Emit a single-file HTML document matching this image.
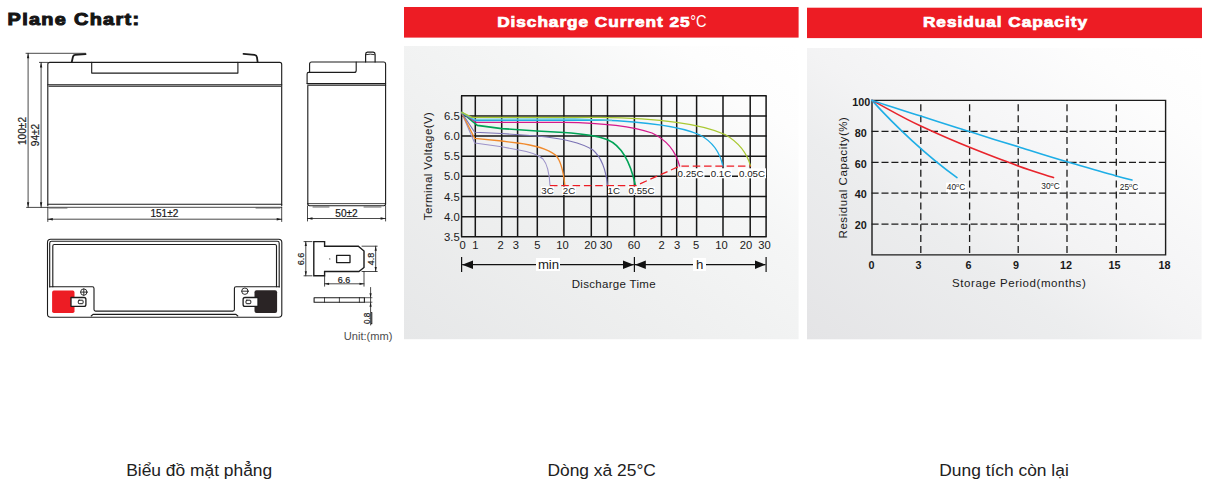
<!DOCTYPE html>
<html><head><meta charset="utf-8">
<style>
html,body{margin:0;padding:0;background:#fff;}
body{width:1210px;height:482px;position:relative;overflow:hidden;font-family:"Liberation Sans",sans-serif;}
svg{position:absolute;left:0;top:0;}
svg text{font-family:"Liberation Sans",sans-serif;}
.cap{position:absolute;top:458.8px;height:22px;line-height:22px;font-size:17.4px;color:#212121;white-space:nowrap;transform:translateX(-50%);}
</style></head><body>
<svg width="1210" height="482" viewBox="0 0 1210 482">
<defs>
<linearGradient id="g1" x1="0" y1="1" x2="1" y2="0"><stop offset="0" stop-color="#e6e7e8"/><stop offset="0.35" stop-color="#eeefef"/><stop offset="0.65" stop-color="#f5f6f6"/><stop offset="0.85" stop-color="#fdfdfd"/><stop offset="1" stop-color="#ffffff"/></linearGradient>
<linearGradient id="g2" x1="0" y1="1" x2="1" y2="0"><stop offset="0" stop-color="#e4e4e6"/><stop offset="0.35" stop-color="#ecedee"/><stop offset="0.5" stop-color="#f3f3f4"/><stop offset="0.65" stop-color="#f7f7f8"/><stop offset="0.85" stop-color="#fdfdfd"/><stop offset="1" stop-color="#ffffff"/></linearGradient>
<marker id="ar" viewBox="0 0 10 10" refX="10" refY="5" markerWidth="9" markerHeight="9" orient="auto-start-reverse"><path d="M0,1 L10,5 L0,9 z" fill="#111"/></marker>
</defs>
<!-- panels -->
<rect x="404" y="46" width="394.6" height="293.2" fill="url(#g1)"/>
<rect x="807" y="48" width="394.6" height="291.3" fill="url(#g2)"/>
<rect x="404" y="7" width="394.6" height="30.6" fill="#ed1c24"/>
<rect x="807" y="7.7" width="395" height="30.4" fill="#ed1c24"/>
<text transform="translate(7.6,25.3) scale(1.15,1)" font-size="17.3" font-weight="bold" fill="#151515" stroke="#151515" stroke-width="1.05" textLength="114.3" lengthAdjust="spacing">Plane Chart:</text>
<text transform="translate(497.2,26.6) scale(1.12,1)" font-size="15.4" font-weight="bold" fill="#fff" stroke="#fff" stroke-width="0.75" textLength="171.8" lengthAdjust="spacing">Discharge Current 25</text>
<text x="690.2" y="26.9" font-size="16.4" fill="#fff" textLength="16.4" lengthAdjust="spacingAndGlyphs">°C</text>
<text transform="translate(922.9,27.2) scale(1.12,1)" font-size="15.4" font-weight="bold" fill="#fff" stroke="#fff" stroke-width="0.75" textLength="146.5" lengthAdjust="spacing">Residual Capacity</text>
<g id="pl" fill="none" stroke="#1c1c1c" stroke-width="1.12" stroke-linejoin="round" stroke-linecap="round">
<!-- front view -->
<path d="M47.8,205.7V64.4Q47.8,62.4 49.8,62.4H279.7Q281.7,62.4 281.7,64.4V205.7"/>
<path d="M47.8,84.8H281.7 M49,86.3H280.5"/>
<path d="M91.7,62.4V73.1H237.9V62.4"/>
<path d="M47.8,204.3H281.7" stroke-width="1.1"/>
<path d="M47.8,207.3H281.7" stroke-width="0.8"/>
<path d="M49,208H67 M256,208H280" stroke-width="0.9" stroke="#555"/>
<!-- terminals front -->
<path d="M85.6,54.1 L75,54.9 Q73.300,55.100 72.900,57 L71.800,62" stroke-width="1.8"/>
<path d="M243.5,53.9 L254.5,54.9 Q256.700,55.200 257,57.300 L257.600,62" stroke-width="1.8"/>
<!-- dims front -->
<g stroke-width="0.8">
<path d="M26,53.3H85.500 M28.1,53.3V207.3 M26.6,207.4H47.5"/>
<path d="M39.4,62.4H47.8 M41.1,62.4V207.3"/>
<path d="M47.8,207.3V221.5 M281.7,207.3V221.5 M47.8,219.2H281.7"/>
</g>
<g fill="#1c1c1c" stroke="none">
<path d="M28.1,53.3l-1.2,5h2.4z M28.1,207.3l-1.2,-5h2.4z M41.1,62.4l-1.2,5h2.4z M41.1,207.3l-1.2,-5h2.4z"/>
<path d="M47.8,219.2l5,-1.2v2.4z M281.7,219.2l-5,-1.2v2.4z M307.5,218.5l5,-1.2v2.4z M385.6,218.5l-5,-1.2v2.4z"/>
</g>
<!-- side view -->
<path d="M307.8,204V86"/>
<path d="M385.6,204V64Q385.6,62 383.600,62H311.600Q309.600,62 309.600,64V72.400"/>
<path d="M309.6,72.4H354.2Q356.2,72.4 356.2,70.400V62"/>
<path d="M309.6,72.4H308.6Q307.1,72.4 307.1,73.900V83.600"/>
<path d="M307.1,83.6H385.6 M307.8,85.3H385.6"/>
<path d="M365.6,62V54.5Q365.6,52.4 367.500,52.200H373.200Q375.100,52.400 375.100,54.500V62" stroke-width="1.2"/>
<path d="M366.4,54.6Q370.3,53.6 374.3,54.6" stroke-width="0.9"/>
<path d="M307.8,204Q307.8,205.600 309.500,205.800H383.900Q385.600,205.600 385.600,204"/>
<path d="M307.8,203.6H385.6" stroke-width="0.8"/>
<path d="M313,207H329 M364,207H381" stroke-width="0.9" stroke="#555"/>
<g stroke-width="0.8"><path d="M307.5,206V221 M385.6,206V221 M307.5,218.500H385.600"/></g>
<!-- top view -->
<rect x="47.5" y="239.2" width="234.3" height="78" rx="3.2" stroke-width="1.1"/>
<path d="M49.700,287V243.200Q49.700,241.300 51.600,241.300H277.300Q279.200,241.300 279.200,243.200V287 M91.200,316 L93,314.400H236L237.800,316"/>
<path d="M52.8,286.8V246Q52.8,244.5 54.300,244.500H275Q276.500,244.500 276.500,246V286.800H236Q234.400,286.800 234.400,288.400V309.500Q234.400,311.100 232.800,311.100H95.600Q94,311.100 94,309.500V288.400Q94,286.800 92.400,286.800Z"/>
<path d="M52.800,286.800H50 M276.500,286.800H279.200"/>
<rect x="52.100" y="290.600" width="22.400" height="22.400" rx="1.800" fill="#ed1c24" stroke="none"/>
<path d="M71,297.500H84Q85.900,297.500 85.900,299.400V304.400Q85.900,306.300 84,306.300H71Z" fill="#fff" stroke-width="1.300"/>
<rect x="78.300" y="300.200" width="4.800" height="3.500" rx="0.800" stroke-width="1"/>
<circle cx="83.800" cy="292.100" r="3.200" stroke-width="0.900"/><path d="M80.600,292.100H87 M83.800,288.900V295.300" stroke-width="0.900"/>
<rect x="254.500" y="290.200" width="22.600" height="22.900" rx="2" fill="#2a2425" stroke="none"/>
<path d="M258,297.500H245Q243.100,297.500 243.100,299.400V304.400Q243.100,306.300 245,306.300H258Z" fill="#fff" stroke-width="1.300"/>
<rect x="246" y="300.200" width="4.800" height="3.500" rx="0.800" stroke-width="1"/>
<circle cx="244.900" cy="291.200" r="3.200" stroke-width="0.900"/><path d="M241.700,291.200H248.100" stroke-width="0.900"/>
<!-- tab detail -->
<path d="M313.8,241.600H324.600V246.200H358.300L364,251V267.500L358.900,271.500H324.600V275.800H313.800Z" stroke-width="1.400" stroke-linejoin="miter"/>
<rect x="336.600" y="255.300" width="13.400" height="7.300" stroke-width="1.300"/>
<circle cx="329.800" cy="258.900" r="0.550" fill="#222" stroke="none"/>
<g stroke-width="0.800">
<path d="M304,241.600H312 M304,275.800H312 M305.800,241.600V275.800"/>
<path d="M362,246.200H377.200 M362,271.500H377.200 M375.700,246.200V271.500"/>
<path d="M324.600,276V286.200 M364,271.500V286.200 M324.600,283.800H364"/>
<path d="M370.600,287.500V325"/>
</g>
<g fill="#1c1c1c" stroke="none">
<path d="M305.800,241.600l-1.100,4.500h2.200z M305.800,275.800l-1.100,-4.500h2.200z M375.700,246.200l-1.100,4.500h2.200z M375.700,271.500l-1.100,-4.500h2.200z"/>
<path d="M324.600,283.800l4.500,-1.100v2.200z M364,283.800l-4.500,-1.100v2.200z"/>
<path d="M370.600,297.700l-1.100,-4.500h2.200z M370.600,302.200l-1.100,4.500h2.200z"/>
</g>
<!-- tab side -->
<rect x="314.100" y="297.700" width="50.300" height="4.500" stroke-width="1.100"/>
<path d="M324.500,297.700V302.200 M339.400,297.700V302.200 M359.400,297.700V302.200" stroke-width="0.800"/>
<path d="M364.400,297.700H372 M364.400,302.200H372" stroke-width="0.700"/>
</g>
<g font-size="10.100" fill="#1a1a1a" stroke="#1a1a1a" stroke-width="0.2" text-anchor="middle">
<text transform="translate(25.600,131) rotate(-90)">100±2</text>
<text transform="translate(39.300,135) rotate(-90)">94±2</text>
<text x="164.400" y="217.200">151±2</text>
<text x="346.500" y="216.500">50±2</text>
<text transform="translate(303.800,259) rotate(-90)" font-size="9">6.6</text>
<text transform="translate(374.200,259) rotate(-90)" font-size="9">4.8</text>
<text x="344" y="283" font-size="9">6.6</text>
<text transform="translate(370.300,318.400) rotate(-90)" font-size="8.2" text-decoration="underline">0.8</text>
</g>
<text x="392.500" y="339.600" font-size="11.100" fill="#4d4d4d" text-anchor="end">Unit:(mm)</text>
<g id="c1">
<g stroke="#161616" stroke-width="1.5" fill="none">
<path d="M461.6,95.7V236.8 M475.3,95.7V236.8 M501.7,95.7V236.8 M517.6,95.7V236.8 M537.3,95.7V236.8 M563.9,95.7V236.8 M591.3,95.7V236.8 M607.5,95.7V236.8 M634.4,95.7V236.8 M661.5,95.7V236.8 M676.7,95.7V236.8 M696.6,95.7V236.8 M723,95.7V236.8 M750.2,95.7V236.8 M766.1,95.7V236.8"/>
<path d="M461,95.7H766.7 M461,115.9H766.7 M461,136H766.7 M461,156.2H766.7 M461,176.3H766.7 M461,196.5H766.7 M461,216.7H766.7 M461,236.8H766.7"/>
</g>
<g fill="none" stroke-width="1.1" stroke-linejoin="round">
<path stroke="#9c92c8" d="M461.4,112.2 L474.7,143 L501.7,146.8 L517.6,149.8 C528,151.5 537,153.5 543,159 C548,165 549.5,175 550,185.6"/>
<path stroke="#f08a2c" stroke-width="1.3" d="M461.4,112.2 L474.7,138.4 L501.7,141 L517.6,143 C530,144.500 546,148 555.500,155 C560.500,160 563.500,172 564.900,185.600"/>
<path stroke="#7a72b4" d="M461.4,112.2 L474.7,132.2 L501.7,133.5 L537.3,136 C560,138 580,142 593,150 C602,158 606,170 607.5,185.6"/>
<path stroke="#00a356" stroke-width="1.6" d="M461.4,112.2 L477.3,125.4 L501.7,128.6 L537,131 L564,132.5 C580,133.500 597,135.600 607.600,139.700 C620,145 630,160 635.500,185.600"/>
<path stroke="#d4198c" stroke-width="1.3" d="M461.4,112.2 L476,122.3 L564,122.3 C600,122.800 632,126 652,133 C667,140 676,152 679.700,166.500"/>
<path stroke="#1eaee6" stroke-width="1.3" d="M461.4,112.2 L475,120.5 L600,120 C640,121.5 680,126 700,135 C713,142 720,152 723,166.5"/>
<path stroke="#5cc4d8" d="M461.4,112.2 L474,119.2 L575,118.9 L612,120.4"/>
<path stroke="#a9c832" stroke-width="1.3" d="M461.4,112.2 L472,117.4 L600,117.3 C650,118 700,123 725,134.5 C740,143 747,153 750.7,166.5"/>
</g>
<path d="M550,185.6 H636 L679.7,166.1 H750.7" fill="none" stroke="#ed1c24" stroke-width="1.3" stroke-dasharray="7.5,3.8"/>
<g font-size="9.7" fill="#1a1a1a" text-anchor="middle">
<rect x="541" y="186.6" width="13" height="8.3" fill="#fff"/><text x="547.5" y="193.8">3C</text>
<rect x="562" y="186.6" width="14" height="8.3" fill="#fff"/><text x="569" y="193.8">2C</text>
<rect x="608" y="186.6" width="12" height="8.3" fill="#fff"/><text x="613.7" y="193.8">1C</text>
<rect x="628" y="186.6" width="27" height="8.3" fill="#fff"/><text x="641.5" y="193.8">0.55C</text>
<rect x="677.5" y="168.3" width="27" height="10" fill="#fff"/><text x="690.5" y="177.1">0.25C</text>
<rect x="710" y="168.3" width="22" height="10" fill="#fff"/><text x="721" y="177.1">0.1C</text>
<rect x="738" y="168.3" width="28" height="10" fill="#fff"/><text x="752" y="177.1">0.05C</text>
</g>
<g font-size="11.3" fill="#1a1a1a" text-anchor="end">
<text x="459.8" y="119.8">6.5</text><text x="459.8" y="140">6.0</text><text x="459.8" y="160.2">5.5</text><text x="459.8" y="180.3">5.0</text><text x="459.8" y="200.5">4.5</text><text x="459.8" y="220.7">4.0</text><text x="459.8" y="240.8">3.5</text>
</g>
<g font-size="11.2" fill="#1a1a1a" text-anchor="middle">
<text x="462.5" y="249.4">0</text><text x="475.3" y="249.4">1</text><text x="500.5" y="249.4">2</text><text x="515.8" y="249.4">3</text><text x="537.3" y="249.4">5</text><text x="562.5" y="249.4">10</text><text x="590.5" y="249.4">20</text><text x="606" y="249.4">30</text><text x="634" y="249.4">60</text><text x="661.5" y="249.4">2</text><text x="677" y="249.4">3</text><text x="696" y="249.4">5</text><text x="721.5" y="249.4">10</text><text x="746" y="249.4">20</text><text x="764.5" y="249.4">30</text>
</g>
<g stroke="#111" stroke-width="1.2" fill="none">
<path d="M461.6,257V272 M634.4,257V272 M766.1,257V272"/>
<path d="M462.2,264.7H633.8" marker-start="url(#ar)" marker-end="url(#ar)"/>
<path d="M635,264.7H765.5" marker-start="url(#ar)" marker-end="url(#ar)"/>
</g>
<rect x="536" y="258" width="24" height="13" fill="#fff"/><text x="548.5" y="269.4" font-size="13.2" text-anchor="middle" fill="#1a1a1a">min</text>
<rect x="693" y="258" width="13" height="13" fill="#fff"/><text x="699.7" y="269.4" font-size="13.2" text-anchor="middle" fill="#1a1a1a">h</text>
<text x="613.8" y="287.5" font-size="11.5" text-anchor="middle" fill="#1a1a1a" letter-spacing="0.3">Discharge Time</text>
<text transform="translate(431.8,165.9) rotate(-90)" font-size="11.5" text-anchor="middle" fill="#1a1a1a" letter-spacing="0.43">Terminal Voltage(V)</text>
</g>
<g id="c2">
<g stroke="#1c1c1c" stroke-width="1.3" fill="none">
<path stroke-dasharray="7,3.9" d="M920.8,104.3V254.500 M969.600,104.300V254.500 M1018.200,104.300V254.500 M1067,104.300V254.500 M1116.300,104.300V254.500"/>
<path stroke-dasharray="7,2.9" d="M871.6,131.400H1165 M871.600,162.300H1165 M871.600,193.200H1165 M871.600,224.100H1165"/>
</g>
<path d="M872,100.4H1165.6V254.9H872Z" fill="none" stroke="#1c1c1c" stroke-width="1.4"/>
<g fill="none" stroke-width="1.6" stroke-linecap="round">
<path stroke="#1eaee6" d="M872,100.4 C895,126 928,157 957,177.6"/>
<path stroke="#e8242c" d="M872,100.4 C890,110 905,119 920.8,126 C940,135 955,141.5 969.6,147.2 C990,155.5 1005,161 1018.2,166 C1032,171 1044,174.5 1053.5,177.6"/>
<path stroke="#1eaee6" d="M872,100.4 C890,106 905,111.5 920.8,116 C940,122.5 955,127 969.6,131.6 C990,138.5 1005,143 1018.2,146.7 C1035,152 1050,157 1067,161.7 C1085,167 1100,171.5 1116.3,175.9 C1122,177.5 1127,178.8 1132,180"/>
</g>
<g font-size="8.3" fill="#1a1a1a" text-anchor="middle">
<rect x="946" y="182.6" width="20.500" height="9.500" fill="#fff"/><text x="956" y="189.800">40<tspan font-size="5.5" dy="-3.2">o</tspan><tspan dy="3.2">C</tspan></text>
<rect x="1040.5" y="182.2" width="20.500" height="9.500" fill="#fff"/><text x="1050.500" y="189.400">30<tspan font-size="5.5" dy="-3.2">o</tspan><tspan dy="3.2">C</tspan></text>
<rect x="1119" y="182.6" width="20.500" height="9.500" fill="#fff"/><text x="1129" y="189.800">25<tspan font-size="5.5" dy="-3.2">o</tspan><tspan dy="3.2">C</tspan></text>
</g>
<g font-size="10.8" font-weight="bold" fill="#1a1a1a" text-anchor="end">
<text x="870.2" y="106.1">100</text><text x="866.8" y="136.8">80</text><text x="866.8" y="167.9">60</text><text x="866.8" y="198.3">40</text><text x="866.8" y="229.2">20</text>
</g>
<g font-size="10.8" font-weight="bold" fill="#1a1a1a" text-anchor="middle">
<text x="871.5" y="269">0</text><text x="918.5" y="269">3</text><text x="968.5" y="269">6</text><text x="1016" y="269">9</text><text x="1066" y="269">12</text><text x="1114.5" y="269">15</text><text x="1164.5" y="269">18</text>
</g>
<text x="1019.2" y="287" font-size="11.5" text-anchor="middle" fill="#1a1a1a" letter-spacing="0.55">Storage Period(months)</text>
<text transform="translate(846.5,177.5) rotate(-90)" font-size="11.5" text-anchor="middle" fill="#1a1a1a" letter-spacing="0.57">Residual Capacity(%)</text>
</g>
</svg>
<div class="cap" style="left:199.2px">Biểu đồ mặt phẳng</div>
<div class="cap" style="left:601.7px">Dòng xả 25°C</div>
<div class="cap" style="left:1004px">Dung tích còn lại</div>
</body></html>
